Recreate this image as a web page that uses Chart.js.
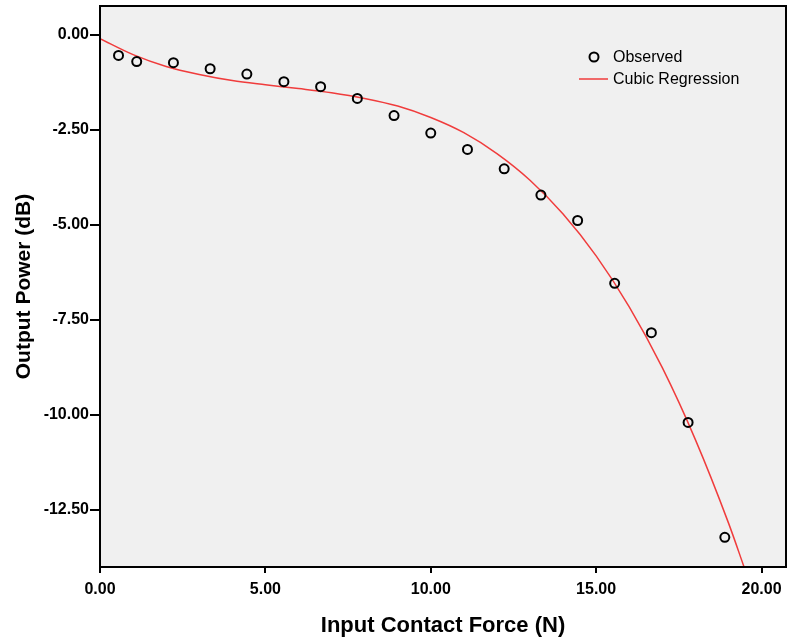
<!DOCTYPE html>
<html>
<head>
<meta charset="utf-8">
<script src="https://cdn.jsdelivr.net/npm/chart.js@4/dist/chart.umd.min.js"></script>
<style>
  html, body { margin: 0; padding: 0; background: #fff; }
  #wrap { width: 787px; height: 642px; }
</style>
</head>
<body>
<div id="wrap"><canvas id="chart" width="787" height="642"></canvas></div>
<script>
// observed points
const obsX = [0.56, 1.11, 2.22, 3.33, 4.44, 5.56, 6.67, 7.78, 8.89, 10.00,
              11.11, 12.22, 13.33, 14.44, 15.56, 16.67, 17.78, 18.89];
const obsY = [-0.55, -0.71, -0.74, -0.90, -1.04, -1.24, -1.37, -1.68, -2.13, -2.59,
              -3.02, -3.53, -4.22, -4.89, -6.54, -7.84, -10.20, -13.22];

// cubic regression curve
const fitX = [0, 1, 2, 3, 4, 5, 6, 7, 8, 9, 10, 11, 12, 13, 14, 15, 16, 17, 18, 19, 19.5];
const fitY = [-0.11, -0.53, -0.84, -1.05, -1.21, -1.32, -1.42, -1.53, -1.68, -1.88, -2.18,
              -2.58, -3.13, -3.83, -4.72, -5.82, -7.16, -8.76, -10.65, -12.84, -14.07];

const xTicks = [0, 5, 10, 15, 20];
const yTicks = [0, -2.5, -5, -7.5, -10, -12.5];

const FONT = "'Liberation Sans', Arial, sans-serif";

// grey plot area, frame and the legend inside the plot
const plotBox = {
  id: 'plotBox',
  beforeDraw(chart) {
    const { ctx, chartArea: a } = chart;
    ctx.save();
    ctx.fillStyle = '#f0f0f0';
    ctx.fillRect(a.left, a.top, a.right - a.left, a.bottom - a.top);
    ctx.restore();
  },
  afterDraw(chart) {
    const { ctx, chartArea: a } = chart;
    ctx.save();
    ctx.strokeStyle = '#000';
    ctx.lineWidth = 2;
    ctx.strokeRect(a.left, a.top, a.right - a.left, a.bottom - a.top);

    // legend
    const lx = a.right - 192, ly = a.top + 51;
    const ds = chart.data.datasets;
    ctx.lineWidth = 2;
    ctx.strokeStyle = '#000';
    ctx.beginPath();
    ctx.arc(lx, ly, 4.5, 0, Math.PI * 2);
    ctx.stroke();
    ctx.strokeStyle = ds[1].borderColor;
    ctx.lineWidth = 1.5;
    ctx.beginPath();
    ctx.moveTo(lx - 15, ly + 22);
    ctx.lineTo(lx + 14, ly + 22);
    ctx.stroke();
    ctx.fillStyle = '#000';
    ctx.font = '16px ' + FONT;
    ctx.textBaseline = 'middle';
    ctx.fillText(ds[0].label, lx + 19, ly + 1);
    ctx.fillText(ds[1].label, lx + 19, ly + 23);
    ctx.restore();
  }
};

const ctx = document.getElementById('chart').getContext('2d');
new Chart(ctx, {
  type: 'scatter',
  data: {
    datasets: [
      {
        label: 'Observed',
        data: obsX.map((x, i) => ({ x: x, y: obsY[i] })),
        pointStyle: 'circle',
        pointRadius: 4.5,
        pointBorderWidth: 2,
        borderColor: '#000',
        backgroundColor: 'rgba(0,0,0,0)',
        showLine: false
      },
      {
        label: 'Cubic Regression',
        data: fitX.map((x, i) => ({ x: x, y: fitY[i] })),
        showLine: true,
        borderColor: '#f03c3c',
        borderWidth: 1.5,
        pointRadius: 0,
        tension: 0.4,
        cubicInterpolationMode: 'monotone'
      }
    ]
  },
  options: {
    responsive: false,
    animation: false,
    layout: { autoPadding: false, padding: { top: 6, right: 1, left: 0, bottom: 0 } },
    plugins: {
      legend: { display: false },
      tooltip: { enabled: false }
    },
    scales: {
      x: {
        type: 'linear',
        min: 0,
        max: 20.74,
        afterBuildTicks: s => { s.ticks = xTicks.map(v => ({ value: v })); },
        afterFit: s => { s.height = 75; s.paddingLeft = 0; s.paddingRight = 0; },
        grid: { drawOnChartArea: false, drawTicks: true, tickLength: 6, color: '#000', lineWidth: 2 },
        border: { display: true, color: '#000', width: 2 },
        ticks: {
          padding: 7,
          color: '#000',
          font: { family: FONT, size: 16, weight: 'bold' },
          maxRotation: 0,
          callback: v => v.toFixed(2)
        },
        title: {
          display: true,
          text: 'Input Contact Force (N)',
          color: '#000',
          font: { family: FONT, size: 22, weight: 'bold' },
          padding: { top: 0, bottom: 3 }
        }
      },
      y: {
        type: 'linear',
        min: -14.0,
        max: 0.75,
        afterBuildTicks: s => { s.ticks = yTicks.map(v => ({ value: v })); },
        afterFit: s => { s.width = 100; s.paddingTop = 0; s.paddingBottom = 0; },
        grid: { drawOnChartArea: false, drawTicks: true, tickLength: 10, color: '#000', lineWidth: 2 },
        border: { display: true, color: '#000', width: 2 },
        ticks: {
          padding: 1,
          color: '#000',
          font: { family: FONT, size: 16, weight: 'bold' },
          callback: v => v.toFixed(2)
        },
        title: {
          display: true,
          text: 'Output Power (dB)',
          color: '#000',
          font: { family: FONT, size: 21, weight: 'bold' },
          padding: { top: 12, bottom: 0 }
        }
      }
    }
  },
  plugins: [plotBox]
});
</script>
</body>
</html>
